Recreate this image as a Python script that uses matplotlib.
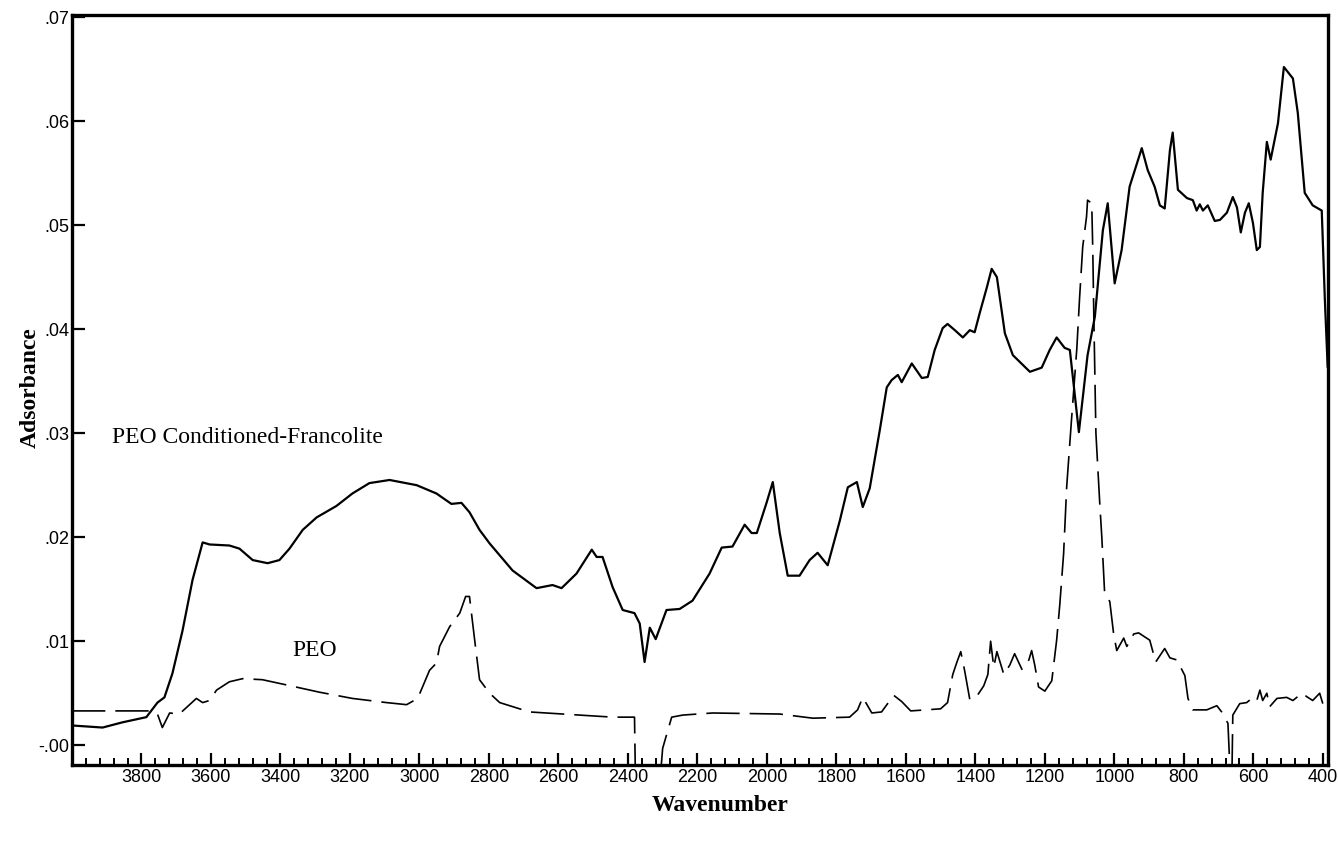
import matplotlib
matplotlib.use("Agg")
import matplotlib.pyplot as plt
from matplotlib.ticker import MultipleLocator, FixedLocator

# ---- data ----
francolite_wn = [4000, 3912, 3855, 3786, 3754, 3734, 3711, 3682, 3653, 3624, 3604, 3547,
                 3518, 3480, 3437, 3403, 3374, 3336, 3296, 3239, 3193, 3144, 3086, 3008,
                 2951, 2908, 2879, 2856, 2827, 2798, 2732, 2663, 2617, 2591, 2548, 2504,
                 2490, 2473, 2444, 2415, 2381, 2366, 2352, 2337, 2320, 2289, 2251, 2214,
                 2165, 2130, 2099, 2064, 2044, 2029, 2001, 1983, 1963, 1940, 1906, 1877,
                 1854, 1825, 1790, 1767, 1741, 1724, 1704, 1675, 1655, 1641, 1623, 1612,
                 1583, 1554, 1537, 1517, 1494, 1480, 1459, 1436, 1416, 1402, 1387, 1367,
                 1353, 1338, 1315, 1292, 1243, 1209, 1186, 1166, 1143, 1128, 1102, 1077,
                 1056, 1033, 1019, 999, 979, 956, 941, 921, 904, 884, 869, 855, 840, 832,
                 817, 791, 774, 763, 754, 745, 731, 711, 696, 676, 659, 647, 636, 624,
                 613, 601, 590, 581, 573, 561, 550, 529, 512, 486, 472, 452, 429, 403,
                 394, 386]
francolite_abs = [0.0019, 0.0017, 0.0022, 0.0027, 0.0041, 0.0046, 0.0069, 0.0110, 0.0159,
                  0.0195, 0.0193, 0.0192, 0.0189, 0.0178, 0.0175, 0.0178, 0.0189, 0.0207,
                  0.0219, 0.0230, 0.0242, 0.0252, 0.0255, 0.0250, 0.0242, 0.0232, 0.0233,
                  0.0224, 0.0207, 0.0194, 0.0168, 0.0151, 0.0154, 0.0151, 0.0165, 0.0188,
                  0.0181, 0.0181, 0.0152, 0.0130, 0.0127, 0.0117, 0.0080, 0.0113, 0.0102,
                  0.0130, 0.0131, 0.0139, 0.0165, 0.0190, 0.0191, 0.0212, 0.0204, 0.0204,
                  0.0233, 0.0253, 0.0204, 0.0163, 0.0163, 0.0178, 0.0185, 0.0173, 0.0216,
                  0.0248, 0.0253, 0.0229, 0.0247, 0.0303, 0.0344, 0.0351, 0.0356, 0.0349,
                  0.0367, 0.0353, 0.0354, 0.0380, 0.0401, 0.0405, 0.0399, 0.0392, 0.0399,
                  0.0397, 0.0416, 0.0440, 0.0458, 0.0450, 0.0396, 0.0375, 0.0359, 0.0363,
                  0.0380, 0.0392, 0.0382, 0.0380, 0.0301, 0.0375, 0.0412, 0.0495, 0.0521,
                  0.0444, 0.0476, 0.0537, 0.0553, 0.0574, 0.0553, 0.0537, 0.0519, 0.0516,
                  0.0572, 0.0589, 0.0534, 0.0526, 0.0524, 0.0514, 0.0520, 0.0514, 0.0519,
                  0.0504, 0.0505, 0.0512, 0.0527, 0.0517, 0.0493, 0.0512, 0.0521, 0.0502,
                  0.0476, 0.0479, 0.0531, 0.0580, 0.0563, 0.0598, 0.0652, 0.0641, 0.0608,
                  0.0531, 0.0519, 0.0514, 0.0428, 0.0364]

peo_wn = [4000, 3777, 3754, 3740, 3719, 3691, 3642, 3624, 3604, 3584, 3547, 3509, 3452,
          3383, 3288, 3193, 3095, 3037, 3005, 2971, 2951, 2942, 2913, 2884, 2867, 2856,
          2841, 2827, 2798, 2769, 2683, 2588, 2444, 2381, 2378, 2309, 2300, 2274, 2242,
          2156, 1963, 1868, 1762, 1739, 1724, 1698, 1670, 1635, 1612, 1586, 1500, 1480,
          1465, 1454, 1442, 1431, 1416, 1396, 1376, 1364, 1356, 1347, 1338, 1318, 1301,
          1287, 1266, 1246, 1238, 1229, 1218, 1200, 1180, 1166, 1157, 1146, 1137, 1123,
          1108, 1100, 1091, 1080, 1077, 1065, 1062, 1059, 1053, 1042, 1036, 1028, 1013,
          1002, 993, 973, 964, 944, 930, 898, 881, 855, 840, 820, 797, 788, 774, 734,
          705, 691, 673, 665, 662, 659, 639, 619, 601, 590, 581, 573, 561, 553, 532,
          504, 486, 460, 443, 429, 409, 400]
peo_abs = [0.0033, 0.0033, 0.0030, 0.0017, 0.0031, 0.0030, 0.0045, 0.0041, 0.0043, 0.0053,
           0.0061, 0.0064, 0.0063, 0.0058, 0.0051, 0.0045, 0.0041, 0.0039, 0.0045, 0.0072,
           0.0079, 0.0095, 0.0114, 0.0127, 0.0143, 0.0143, 0.0101, 0.0063, 0.0050, 0.0041,
           0.0032, 0.0030, 0.0027, 0.0027, -0.0040, -0.0040, -0.0003, 0.0027, 0.0029,
           0.0031, 0.0030, 0.0026, 0.0027, 0.0034, 0.0046, 0.0031, 0.0032, 0.0048, 0.0042,
           0.0033, 0.0035, 0.0041, 0.0068, 0.0079, 0.0090, 0.0072, 0.0044, 0.0047, 0.0057,
           0.0068, 0.0100, 0.0075, 0.0090, 0.0068, 0.0077, 0.0088, 0.0073, 0.0082, 0.0091,
           0.0077, 0.0056, 0.0052, 0.0062, 0.0101, 0.0135, 0.0184, 0.0249, 0.0314, 0.0381,
           0.0430, 0.0479, 0.0508, 0.0524, 0.0521, 0.0476, 0.0412, 0.0300, 0.0233, 0.0200,
           0.0147, 0.0138, 0.0107, 0.0091, 0.0103, 0.0095, 0.0107, 0.0108, 0.0101, 0.0080,
           0.0093, 0.0084, 0.0082, 0.0067, 0.0045, 0.0034, 0.0034, 0.0038, 0.0032, 0.0021,
           -0.0040, -0.0040, 0.0029, 0.0040, 0.0041, 0.0046, 0.0043, 0.0053, 0.0043, 0.0050,
           0.0037, 0.0045, 0.0046, 0.0043, 0.0050, 0.0046, 0.0043, 0.0050, 0.0040]

x_ticks = [3800, 3600, 3400, 3200, 3000, 2800, 2600, 2400, 2200, 2000, 1800, 1600,
           1400, 1200, 1000, 800, 600, 400]
y_ticks = [0.0, 0.01, 0.02, 0.03, 0.04, 0.05, 0.06, 0.07]
y_tick_labels = ['-.00', '.01', '.02', '.03', '.04', '.05', '.06', '.07']
series_labels = ['PEO Conditioned-Francolite', 'PEO']

# ---- figure ----
fig = plt.figure(figsize=(13.38, 8.46), dpi=100)
ax = fig.add_axes([72 / 1338, 1 - 765 / 846, (1328 - 72) / 1338, (765 - 15) / 846])

ax.plot(francolite_wn, francolite_abs, color='black', lw=1.6, solid_joinstyle='round')
ax.plot(peo_wn, peo_abs, color='black', lw=1.2, linestyle=(0, (20, 6)))

ax.set_xlim(4000, 385)
ax.set_ylim(-0.0019, 0.0702)

ax.xaxis.set_major_locator(FixedLocator(x_ticks))
ax.xaxis.set_minor_locator(MultipleLocator(40))
ax.set_xticklabels([str(t) for t in x_ticks])
ax.set_yticks(y_ticks)
ax.set_yticklabels(y_tick_labels)

ax.tick_params(axis='x', which='major', direction='in', length=9, width=1.6,
               labelsize=13, pad=3)
ax.tick_params(axis='x', which='minor', direction='in', length=5, width=1.4)
ax.tick_params(axis='y', which='major', direction='in', length=9, width=1.6,
               labelsize=13, pad=2)
for lab in ax.get_xticklabels() + ax.get_yticklabels():
    lab.set_family('Liberation Sans')

for sp in ax.spines.values():
    sp.set_linewidth(2.4)

ax.text(3884, 0.0296, series_labels[0], fontsize=17, family='Liberation Serif',
        va='center', ha='left')
ax.text(3302, 0.0091, series_labels[1], fontsize=17, family='Liberation Serif',
        va='center', ha='center')

fig.text(30 / 1338, 1 - 388 / 846, 'Adsorbance', rotation=90, fontsize=17,
         family='Liberation Serif', fontweight='bold', ha='center', va='center')
fig.text(720 / 1338, 1 - 805 / 846, 'Wavenumber', fontsize=17,
         family='Liberation Serif', fontweight='bold', ha='center', va='center')

fig.savefig('out.png', dpi=100)
